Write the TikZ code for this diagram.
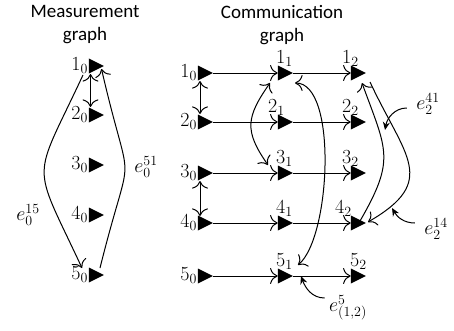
\RequirePackage{fix-cm}
\documentclass[tikz,border=0pt]{standalone}
\usepackage[no-math]{fontspec}
\newfontfamily\titlefont{Carlito}
\usetikzlibrary{arrows.meta, shapes.geometric}

\begin{document}
\begin{tikzpicture}[
    x=1pt, y=1pt,
    font=\fontsize{20}{23}\selectfont,
    agent/.style={isosceles triangle, isosceles triangle stretches, fill=black,
                  minimum width=15pt, minimum height=15pt, inner sep=0pt},
    title/.style={font=\titlefont\fontsize{19}{23}\selectfont, align=center},
    arr/.style={-{To[scale=2]}, line width=1pt},
    dbl/.style={{To[scale=2]}-{To[scale=2]}, line width=1pt},
    ptr/.style={-{Stealth[length=8pt,width=7pt]}, line width=1pt},
    every label/.style={inner sep=0.5pt}
  ]
    \useasboundingbox (0,0) rectangle (454,330);

    % titles
    \node[title] (tmeas) at (85,305)  {Measurement\\graph};
    \node[title] (tcomm) at (282,305) {Communication\\graph};

    % measurement graph
    \node[agent, label=left:$1_0$] (m1) at (93.5,264) {};
    \node[agent, label=left:$2_0$] (m2) at (93.5,215) {};
    \node[agent, label=left:$3_0$] (m3) at (93.5,165) {};
    \node[agent, label=left:$4_0$] (m4) at (93.5,115) {};
    \node[agent, label=left:$5_0$] (m5) at (93.5,55)  {};

    \draw[dbl] ([shift={(-3,-8)}]m1.center) -- ([shift={(-3,8)}]m2.center);
    \draw[arr] ([shift={(-10.5,-9)}]m1.center) to[out=-115, in=115, looseness=1.6] ([shift={(-11.5,7)}]m5.center);
    \draw[arr] ([shift={(6.5,7)}]m5.center) to[out=76, in=-77, looseness=1.77] ([shift={(8,-3)}]m1.center);
    \node (e015) at (28,115)  {$e_0^{15}$};
    \node (e051) at (146,163) {$e_0^{51}$};

    % communication graph, step 0
    \node[agent, label=left:$1_0$] (r10) at (202.5,257) {};
    \node[agent, label=left:$2_0$] (r20) at (202.5,208) {};
    \node[agent, label=left:$3_0$] (r30) at (202.5,157) {};
    \node[agent, label=left:$4_0$] (r40) at (202.5,107) {};
    \node[agent, label=left:$5_0$] (r50) at (202.5,54)  {};

    % step 1
    \node[agent, label={[xshift=2pt]above:$1_1$}]  (r11) at (282.5,257) {};
    \node[agent, label={[xshift=-6pt]above:$2_1$}] (r21) at (282.5,208) {};
    \node[agent, label={[xshift=2pt]above:$3_1$}]  (r31) at (282.5,157) {};
    \node[agent, label={[xshift=2pt]above:$4_1$}]  (r41) at (282.5,107) {};
    \node[agent, label={[xshift=2pt]above:$5_1$}]  (r51) at (282.5,54)  {};

    % step 2
    \node[agent, label={[xshift=-5pt]above:$1_2$}]  (r12) at (355.5,257) {};
    \node[agent, label={[xshift=-5pt]above:$2_2$}]  (r22) at (355.5,208) {};
    \node[agent, label={[xshift=-5pt]above:$3_2$}]  (r32) at (355.5,157) {};
    \node[agent, label={[xshift=-12pt]above:$4_2$}] (r42) at (355.5,107) {};
    \node[agent, label={[xshift=3pt]above:$5_2$}]   (r52) at (355.5,54)  {};

    \draw[arr] (r10.apex) -- (r11.west);
    \draw[arr] (r20.apex) -- (r21.west);
    \draw[arr] (r30.apex) -- (r31.west);
    \draw[arr] (r40.apex) -- (r41.west);
    \draw[arr] (r50.apex) -- (r51.west);
    \draw[arr] (r11.apex) -- (r12.west);
    \draw[arr] (r21.apex) -- (r22.west);
    \draw[arr] (r31.apex) -- (r32.west);
    \draw[arr] (r41.apex) -- (r42.west);
    \draw[arr] (r51.apex) -- (r52.west);

    \draw[dbl] ([shift={(-2.5,-8)}]r10.center) -- ([shift={(-2.5,8)}]r20.center);
    \draw[dbl] ([shift={(-2.5,-8)}]r30.center) -- ([shift={(-2.5,7)}]r40.center);
    \draw[dbl] ([shift={(-12.5,-10)}]r11.center) to[out=-125, in=125, looseness=1.3] ([shift={(-14.5,8)}]r31.center);
    \draw[dbl] ([shift={(12.5,-10)}]r11.center) to[out=0, in=40, looseness=0.6] ([shift={(15.5,11)}]r51.center);
    \draw[arr] ([shift={(4.5,2)}]r42.center) to[out=60, in=-70, looseness=1.33] ([shift={(6.5,-10)}]r12.center);
    \draw[arr] ([shift={(14.5,-9)}]r12.center) to[out=-65, in=30, looseness=1.5] ([shift={(12.5,1)}]r42.center);

    % edge labels with pointers
    \node (e241) at (428,226) {$e_2^{41}$};
    \node (e214) at (436,101) {$e_2^{14}$};
    \node (e512) at (348,22)  {$e_{(1,2)}^{5}$};
    \coordinate (p241) at (385,200);
    \coordinate (p214) at (392,122);
    \coordinate (p512) at (301,54);
    \draw[ptr] ([shift={(-6,-4)}]e241.west) to[out=180, in=80] (p241);
    \draw[ptr] ([shift={(-6,6)}]e214.west) to[out=180, in=-60] (p214);
    \draw[ptr] ([shift={(-1,10)}]e512.west) to[out=180, in=-70] (p512);
\end{tikzpicture}
\end{document}
